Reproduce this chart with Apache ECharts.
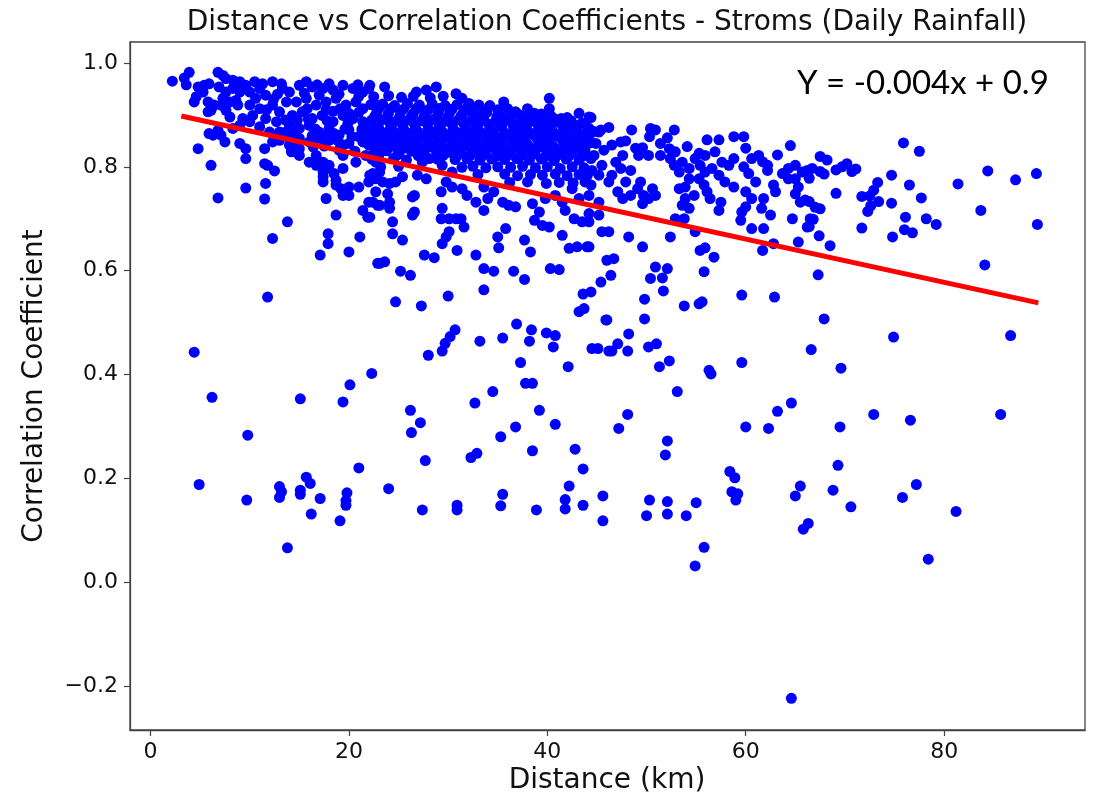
<!DOCTYPE html>
<html>
<head>
<meta charset="utf-8">
<script src="https://cdn.jsdelivr.net/npm/echarts@6/dist/echarts.min.js"></script>
<style>
html,body{margin:0;padding:0;background:#fff;}
#chart{width:1094px;height:798px;}
</style>
</head>
<body>
<div id="chart"></div>
<script>
// ---- tick labels ----
const xTicks = [0, 20, 40, 60, 80];
const yTicks = [-0.2, 0.0, 0.2, 0.4, 0.6, 0.8, 1.0];

// ---- regression line endpoints ----
const fitLine = [[3.1, 0.898], [89.5, 0.538]];
const equationText = 'Y = -0.004x + 0.9';
const titleText = 'Distance vs Correlation Coefficients - Stroms (Daily Rainfall)';
const xName = 'Distance (km)';
const yName = 'Correlation Coefficient';

// ---- scatter points: [distance km, correlation] ----
const ptsNear = [
[2.2,0.965],[3.4,0.971],[3.9,0.982],[3.6,0.958],[4.8,0.954],[5.4,0.957],[5.9,0.960],[4.6,0.935],[5.3,0.944],[4.4,0.925],
[6.8,0.982],[7.3,0.976],[7.6,0.970],[8.3,0.967],[9.0,0.964],[9.6,0.957],[6.9,0.954],[7.6,0.944],[8.3,0.951],[9.0,0.944],
[5.8,0.925],[6.4,0.919],[6.1,0.909],[5.8,0.906],[7.3,0.932],[8.0,0.925],[8.6,0.928],[7.1,0.919],[7.6,0.909],[8.0,0.896],
[8.8,0.919],[6.3,0.861],[5.9,0.864],[4.8,0.835],[6.1,0.803],[7.5,0.848],[6.8,0.870],[7.1,0.861],[9.0,0.845],[9.6,0.835],
[9.6,0.816],[11.5,0.835],[11.5,0.806],[11.8,0.803],[12.5,0.792],[11.6,0.768],[6.8,0.740],[9.6,0.759],[11.5,0.738],[13.8,0.694],
[12.3,0.662],[14.0,0.842],[14.3,0.832],[10.5,0.964],[11.3,0.960],[12.3,0.964],[13.2,0.960],[13.3,0.951],[11.0,0.951],[10.0,0.944],
[10.6,0.932],[11.6,0.938],[10.0,0.919],[11.0,0.912],[12.3,0.919],[13.0,0.906],[10.3,0.899],[11.6,0.893],[12.7,0.887],[11.0,0.877],
[12.0,0.867],[10.0,0.887],[9.3,0.893],[9.0,0.880],[8.3,0.874],[12.3,0.848],[13.0,0.851],[12.7,0.854],
[14.0,0.944],[15.0,0.957],[15.7,0.964],[16.3,0.954],[17.4,0.951],[18.4,0.948],[19.4,0.957],[20.4,0.951],[21.4,0.944],[22.0,0.951],
[14.7,0.925],[15.7,0.932],[16.7,0.919],[17.7,0.925],[18.7,0.932],[19.7,0.919],[20.7,0.925],[21.4,0.912],[22.7,0.919],
[14.3,0.899],[15.3,0.906],[16.3,0.893],[17.3,0.899],[18.4,0.887],[19.4,0.899],[20.4,0.893],[21.4,0.887],
[14.0,0.880],[15.0,0.874],[16.0,0.880],[17.0,0.867],[18.0,0.874],[19.0,0.861],[20.0,0.871],[21.0,0.858],
[15.0,0.855],[16.0,0.848],[17.0,0.855],[18.0,0.851],[20.0,0.845],[21.4,0.848],[14.2,0.829],[15.0,0.835],
[16.0,0.809],[16.7,0.803],[17.4,0.809],[18.0,0.803],[17.4,0.790],[17.7,0.797],[18.5,0.787],[18.7,0.774],[17.4,0.781],[17.4,0.771],
[19.4,0.797],[18.7,0.765],[19.2,0.758],[20.0,0.761],[21.0,0.761],[20.0,0.745],[19.4,0.745],[22.0,0.771],[22.4,0.787],[23.1,0.790],
[22.0,0.732],[21.4,0.716],[21.9,0.703],[22.7,0.752],[22.9,0.726],[17.7,0.739],[18.7,0.707],[17.9,0.671],[17.9,0.652],[17.1,0.630],
[20.0,0.636],[21.1,0.665],[22.9,0.614],[16.7,0.822],[15.0,0.822],[19.4,0.822],[20.7,0.809],[21.7,0.822],[22.7,0.809],[19.4,0.842],
[22.7,0.835],[14.0,0.861],[14.7,0.848],[13.0,0.867],
[12.8,0.940],[15.5,0.942],[17.0,0.938],[19.0,0.940],[21.0,0.936],[11.7,0.910],[15.8,0.912],[17.7,0.910],[19.1,0.912],[21.0,0.905],
[13.5,0.866],[16.5,0.866],[18.5,0.864],[21.3,0.872],[16.4,0.838],[17.5,0.840],[19.0,0.832],[20.6,0.830],[22.0,0.842],
[16.8,0.958],[18.0,0.960],[20.9,0.958],[13.7,0.925],[12.4,0.930],[14.8,0.890],[15.9,0.892],[17.8,0.889],[19.9,0.884],[22.2,0.878],
[13.6,0.890],[16.6,0.873],[19.6,0.873],[21.9,0.862],[14.4,0.866],[16.3,0.860],[17.8,0.862],[20.3,0.858],[18.9,0.850],[18.4,0.907],[20.0,0.903]
];

const ptsMid = [
[22.1,0.957],[23.6,0.954],[26.8,0.944],[27.8,0.948],[28.8,0.954],[30.8,0.941],[31.4,0.932],[32.1,0.922],[33.1,0.919],[35.6,0.925],
[36.0,0.912],[38.0,0.912],[38.7,0.903],[40.2,0.932],[40.2,0.912],[40.3,0.899],[41.5,0.880],[42.2,0.880],[43.2,0.903],[44.2,0.896],[45.2,0.867],
[22.5,0.935],[24.0,0.937],[25.3,0.934],[26.5,0.936],[28.2,0.933],[29.5,0.936],
[22.2,0.920],[23.4,0.921],[24.6,0.918],[25.9,0.922],[27.1,0.919],[28.4,0.921],[29.7,0.918],[30.9,0.920],[32.4,0.906],[34.2,0.918],[35.0,0.910],[36.8,0.906],
[22.8,0.905],[24.0,0.904],[25.2,0.906],[26.5,0.903],[27.7,0.905],[29.0,0.904],[30.2,0.906],[31.5,0.903],[32.7,0.899],[33.9,0.905],[35.3,0.897],[37.1,0.901],[38.2,0.894],[39.4,0.902],[41.4,0.893],
[22.3,0.890],[23.5,0.891],[24.8,0.888],[26.0,0.890],[27.3,0.889],[28.5,0.891],[29.8,0.888],[31.0,0.890],[32.2,0.887],[33.4,0.889],[34.7,0.886],[35.9,0.890],[37.2,0.885],[38.4,0.888],[39.7,0.884],[41.0,0.887],[42.4,0.889],[43.5,0.884],
[23.0,0.875],[24.2,0.876],[25.5,0.873],[26.7,0.875],[28.0,0.874],[29.2,0.876],[30.5,0.873],[31.7,0.875],[33.0,0.874],[34.2,0.872],[35.4,0.876],[36.6,0.873],[37.9,0.875],[39.1,0.871],[40.4,0.874],[41.7,0.870],[42.9,0.873],[44.1,0.870],
[22.4,0.860],[23.7,0.861],[24.9,0.858],[26.2,0.860],[27.4,0.859],[28.7,0.861],[29.9,0.858],[31.2,0.860],[32.4,0.859],[33.7,0.861],[34.9,0.857],[36.1,0.860],[37.4,0.858],[38.6,0.861],[39.9,0.857],[41.1,0.859],[42.3,0.856],[43.6,0.860],
[23.1,0.845],[24.3,0.846],[25.6,0.843],[26.8,0.845],[28.1,0.844],[29.3,0.846],[30.6,0.843],[31.8,0.845],[33.1,0.844],[34.3,0.846],[35.6,0.842],[36.8,0.845],[38.0,0.843],[39.3,0.846],[40.5,0.842],[41.8,0.845],[43.0,0.843],[44.3,0.846],
[22.6,0.830],[23.8,0.831],[25.1,0.828],[26.3,0.830],[27.6,0.829],[28.8,0.831],[30.1,0.828],[31.3,0.830],[32.6,0.829],[33.8,0.831],[35.1,0.827],[36.3,0.830],[37.5,0.828],[38.8,0.831],[40.0,0.827],[41.3,0.830],[42.5,0.828],[43.8,0.831],
[22.3,0.815],[24.5,0.816],[25.8,0.813],[28.9,0.815],[30.7,0.814],[31.9,0.816],[33.2,0.813],[34.4,0.815],[35.7,0.814],[36.9,0.816],[38.2,0.813],[39.4,0.815],[40.7,0.812],[41.9,0.815],[43.2,0.813],[44.4,0.816],
[23.2,0.800],[25.0,0.801],[31.4,0.799],[32.5,0.801],[33.8,0.798],[35.0,0.800],[36.3,0.799],[37.5,0.801],[38.8,0.798],[40.0,0.800],[41.3,0.797],[42.5,0.800],[43.7,0.798],
[33.0,0.785],[35.7,0.786],[37.0,0.783],[38.3,0.785],[39.5,0.784],[40.8,0.786],[42.0,0.783],[43.2,0.785],[44.0,0.782],
[36.2,0.770],[38.0,0.771],[39.9,0.768],[41.2,0.770],[42.6,0.769],[43.8,0.771],
[23.0,0.912],[24.3,0.913],[25.5,0.911],[26.8,0.912],[28.0,0.910],[29.2,0.913],[30.4,0.911],[31.8,0.912],[33.5,0.910],
[22.6,0.897],[23.9,0.898],[25.1,0.896],[26.3,0.897],[27.6,0.898],[28.9,0.896],[30.0,0.897],[31.3,0.898],[32.5,0.895],[33.6,0.897],[34.9,0.896],[36.3,0.898],[37.8,0.895],[39.0,0.896],[40.6,0.894],[42.0,0.895],
[22.9,0.882],[24.2,0.883],[25.4,0.881],[26.6,0.882],[27.9,0.883],[29.1,0.881],[30.4,0.882],[31.6,0.883],[32.8,0.881],[34.1,0.882],[35.3,0.880],[36.5,0.882],[37.8,0.881],[39.0,0.883],[40.3,0.880],[41.5,0.882],[42.8,0.880],[43.9,0.881],
[23.3,0.867],[24.5,0.868],[25.8,0.866],[27.0,0.867],[28.3,0.868],[29.5,0.866],[30.8,0.867],[32.0,0.868],[33.3,0.866],[34.5,0.867],[35.7,0.865],[37.0,0.867],[38.2,0.866],[39.5,0.868],[40.7,0.865],[42.0,0.866],[43.2,0.864],
[22.8,0.852],[24.0,0.853],[25.3,0.851],[26.5,0.852],[27.8,0.853],[29.0,0.851],[30.3,0.852],[31.5,0.853],[32.8,0.851],[34.0,0.852],[35.2,0.850],[36.5,0.852],[37.7,0.851],[39.0,0.853],[40.2,0.850],[41.5,0.852],[42.7,0.850],[43.9,0.851],
[23.4,0.837],[24.7,0.838],[25.9,0.836],[27.2,0.837],[28.4,0.838],[29.7,0.836],[30.9,0.837],[32.2,0.838],[33.4,0.836],[34.6,0.837],[35.9,0.835],[37.1,0.837],[38.4,0.836],[39.6,0.838],[40.9,0.835],[42.1,0.836],[43.4,0.834],
[23.0,0.822],[24.9,0.823],[27.0,0.821],[29.5,0.822],[31.0,0.823],[32.2,0.821],[33.5,0.822],[34.8,0.820],[36.0,0.822],[37.3,0.821],[38.5,0.823],[39.8,0.820],[41.0,0.822],[42.2,0.821],[43.5,0.820],
[22.1,0.784],[22.7,0.777],[23.4,0.771],[24.1,0.768],[24.7,0.771],[25.4,0.781],[22.4,0.732],[23.1,0.726],[23.9,0.748],[24.1,0.732],
[24.1,0.720],[24.4,0.694],[22.1,0.703],[24.4,0.671],[25.4,0.659],[26.4,0.742],[26.6,0.745],[26.4,0.707],[26.6,0.713],[26.9,0.784],
[27.8,0.777],[29.3,0.752],[29.4,0.720],[29.3,0.700],[30.1,0.700],[30.8,0.700],[31.3,0.700],[31.6,0.684],[29.8,0.771],[30.4,0.761],
[31.4,0.758],[31.9,0.745],[32.8,0.732],[30.1,0.675],[29.8,0.665],[29.4,0.652],[30.9,0.639],[27.6,0.630],[28.6,0.625],[32.8,0.630],
[23.1,0.614],[23.6,0.617],[25.2,0.599],[26.2,0.591],[33.6,0.604],[34.6,0.599],[36.6,0.599],[37.7,0.583],[35.0,0.665],[35.1,0.644],
[35.8,0.681],[37.7,0.659],[38.3,0.636],[33.6,0.716],[34.0,0.739],[34.6,0.752],[35.5,0.732],[36.1,0.726],[36.8,0.723],[38.5,0.729],
[39.2,0.713],[38.7,0.697],[39.5,0.687],[40.2,0.684],[40.3,0.604],[41.2,0.602],[41.5,0.668],[41.8,0.716],[42.7,0.700],[43.5,0.694],
[42.2,0.643],[43.0,0.646],[44.0,0.646],[39.8,0.739],[40.8,0.745],[41.5,0.732],[42.5,0.758],[43.2,0.739],[44.2,0.745],[45.2,0.732],
[33.6,0.761],[27.4,0.809],[28.1,0.816],[29.4,0.803],[30.4,0.790]
];

const ptsFar = [
[44.4,0.895],[46.2,0.876],[45.4,0.871],[44.7,0.868],[48.5,0.871],[50.4,0.874],[50.9,0.871],[50.3,0.858],[52.1,0.856],[52.8,0.871],
[56.1,0.852],[57.3,0.852],[58.8,0.858],[59.8,0.858],[64.5,0.841],[63.2,0.823],[47.4,0.848],[47.9,0.850],[48.9,0.836],[49.6,0.837],
[51.4,0.845],[54.1,0.839],[55.3,0.826],[60.0,0.836],[60.6,0.816],[61.7,0.810],[58.8,0.816],
[44.9,0.845],[45.7,0.832],[44.7,0.822],[45.5,0.803],[44.5,0.793],[45.2,0.784],[46.2,0.771],[44.4,0.765],[47.6,0.822],[46.9,0.809],
[47.4,0.797],[48.4,0.793],[46.5,0.784],[47.9,0.771],[47.1,0.752],[48.4,0.745],[47.6,0.739],[49.4,0.771],[49.1,0.758],[49.7,0.745],
[50.6,0.758],[50.9,0.745],[50.2,0.739],[49.6,0.729],[51.4,0.822],[52.4,0.816],[52.8,0.803],[53.6,0.809],[53.3,0.790],[54.3,0.797],
[54.3,0.777],[53.9,0.761],[53.3,0.758],[54.9,0.816],[55.4,0.803],[55.9,0.790],[56.6,0.797],[55.3,0.777],[55.8,0.765],[54.8,0.745],
[53.9,0.739],[56.1,0.752],[56.4,0.739],[57.3,0.784],[57.6,0.809],[57.9,0.771],[58.8,0.761],[57.5,0.732],[57.3,0.716],[54.3,0.720],
[53.6,0.726],[52.9,0.700],[53.8,0.700],[59.8,0.800],[60.3,0.787],[61.0,0.771],[60.0,0.752],[60.6,0.739],[60.0,0.723],[59.6,0.713],
[59.5,0.697],[60.6,0.681],[61.8,0.739],[61.6,0.720],[62.5,0.707],[61.8,0.681],[62.2,0.793],[62.8,0.765],[63.0,0.752],[63.7,0.787],
[64.3,0.797],[65.0,0.777],[65.7,0.790],[66.2,0.793],[65.3,0.761],[65.0,0.748],[66.0,0.736],[65.5,0.732],[66.5,0.700],[66.2,0.684],
[64.7,0.700],[65.3,0.655],[44.2,0.710],[44.2,0.694],[45.2,0.707],[45.5,0.675],[46.2,0.675],[48.2,0.665],[49.6,0.646],[44.2,0.646],
[46.0,0.620],[46.7,0.623],[46.4,0.591],[45.4,0.578],[50.9,0.607],[52.1,0.604],[50.4,0.585],[51.6,0.586],[52.4,0.665],[55.4,0.639],
[55.9,0.644],[56.8,0.626],[61.7,0.639],[62.8,0.652],[54.9,0.675],[55.8,0.598],[44.2,0.874],[44.2,0.855],
[46.5,0.842],[49.2,0.822],[50.2,0.822],[52.3,0.835],[52.9,0.829],[55.9,0.822],[56.9,0.829],[58.3,0.803],[61.3,0.822],[62.2,0.803],
[64.3,0.777],[65.0,0.803],
[75.9,0.846],[77.5,0.830],[84.4,0.792],[87.2,0.775],[89.3,0.787],[81.4,0.767],[83.7,0.716],[89.4,0.689],[84.1,0.611],[76.5,0.765],
[77.7,0.740],[78.2,0.700],[79.2,0.689],[76.1,0.703],[76.0,0.679],[76.8,0.673],[74.7,0.784],[74.7,0.730],[74.8,0.665],[73.3,0.770],
[72.9,0.755],[72.5,0.744],[73.4,0.733],[72.6,0.725],[72.3,0.714],[71.7,0.743],[71.7,0.682],[69.1,0.749],[67.5,0.820],[68.2,0.813],
[66.7,0.797],[67.5,0.791],[67.9,0.786],[69.1,0.794],[69.7,0.800],[70.2,0.806],[70.7,0.791],[71.1,0.796],[66.4,0.778],[66.4,0.733],
[67.0,0.722],[67.5,0.719],[66.8,0.699],[66.4,0.685],[67.4,0.667],[68.5,0.648],[67.3,0.592]
];

const ptsLow = [
[11.8,0.549],[24.7,0.540],[27.3,0.532],[30.0,0.551],[33.6,0.563],[43.6,0.555],[44.4,0.559],[43.2,0.521],[43.7,0.527],[45.9,0.505],
[36.9,0.497],[38.4,0.486],[39.9,0.480],[40.8,0.475],[38.2,0.464],[40.6,0.453],[35.5,0.470],[33.2,0.464],[30.7,0.486],[30.2,0.473],
[29.7,0.460],[29.4,0.445],[28.0,0.437],[4.4,0.443],[37.3,0.423],[42.1,0.415],[44.5,0.450],[45.1,0.450],[46.2,0.445],[22.3,0.402],
[20.1,0.380],[19.4,0.347],[15.1,0.353],[6.2,0.356],[37.8,0.383],[38.5,0.383],[34.5,0.367],[32.7,0.345],[39.2,0.331],[26.2,0.331],
[27.2,0.307],[26.3,0.288],[36.8,0.299],[40.8,0.304],[35.3,0.280],[9.8,0.283],[38.5,0.253],[42.8,0.256],[32.3,0.240],[32.9,0.248],
[27.7,0.234],[43.6,0.218],[21.0,0.220],[4.9,0.188],[9.7,0.158],[13.0,0.184],[13.2,0.174],[13.0,0.163],[15.1,0.177],[15.1,0.169],
[15.7,0.202],[16.1,0.190],[17.1,0.161],[16.2,0.131],[19.1,0.118],[19.8,0.172],[19.7,0.157],[19.7,0.148],[24.0,0.180],[27.4,0.139],
[30.9,0.148],[30.9,0.139],[35.5,0.169],[35.3,0.147],[38.9,0.139],[42.2,0.185],[41.8,0.159],[41.8,0.141],[43.6,0.148],[45.6,0.166],
[45.6,0.118],[13.8,0.066],
[49.8,0.545],[51.7,0.561],[53.8,0.532],[55.3,0.536],[55.6,0.540],[59.6,0.553],[62.9,0.549],[46.0,0.505],[49.8,0.507],[67.9,0.507],
[48.2,0.478],[47.1,0.459],[46.5,0.445],[48.1,0.445],[50.2,0.453],[51.0,0.459],[51.3,0.415],[52.3,0.426],[56.3,0.408],[56.5,0.401],
[59.6,0.423],[66.6,0.448],[69.6,0.412],[74.9,0.472],[86.7,0.475],[53.1,0.367],[48.1,0.323],[47.2,0.296],[52.1,0.272],[51.9,0.245],
[60.0,0.299],[62.3,0.296],[63.2,0.329],[64.6,0.345],[69.5,0.299],[72.9,0.323],[76.6,0.312],[85.7,0.323],[69.3,0.225],[58.4,0.213],
[58.9,0.201],[58.6,0.174],[59.2,0.170],[59.0,0.158],[65.5,0.185],[65.0,0.166],[68.8,0.177],[70.6,0.145],[77.2,0.188],[75.8,0.163],
[81.2,0.136],[50.3,0.158],[50.0,0.128],[52.1,0.155],[52.1,0.131],[55.0,0.153],[54.0,0.128],[66.3,0.113],[65.8,0.102],[55.8,0.067],
[54.9,0.031],[78.4,0.044],[64.6,-0.224]
];

const allPts = ptsNear.concat(ptsMid, ptsFar, ptsLow);

const chart = echarts.init(document.getElementById('chart'), null, {renderer: 'canvas'});
const tickFont = {fontFamily: 'DejaVu Sans', fontSize: 22, color: '#111'};
const frameColor = '#444';

chart.setOption({
  animation: false,
  backgroundColor: '#ffffff',
  grid: {left: 130, right: 9, top: 42, bottom: 68, show: true, borderColor: frameColor, borderWidth: 1.3, backgroundColor: 'transparent'},
  xAxis: {
    type: 'value', min: -2.07, max: 94.2,
    axisLine: {show: true, onZero: false, lineStyle: {color: frameColor, width: 1.3}},
    axisTick: {show: true, customValues: xTicks, length: 6, lineStyle: {color: frameColor, width: 1.2}},
    axisLabel: Object.assign({customValues: xTicks, margin: 11, formatter: v => String(Math.round(v))}, tickFont),
    splitLine: {show: false}
  },
  yAxis: {
    type: 'value', min: -0.285, max: 1.0405,
    axisLine: {show: true, onZero: false, lineStyle: {color: frameColor, width: 1.3}},
    axisTick: {show: true, customValues: yTicks, length: 6, lineStyle: {color: frameColor, width: 1.2}},
    axisLabel: Object.assign({customValues: yTicks, margin: 12, formatter: v => {
      const s = Math.abs(v).toFixed(1);
      return v < -1e-9 ? '\u2212' + s : s;
    }}, tickFont),
    splitLine: {show: false}
  },
  graphic: [
    {type: 'text', x: 607, y: 23,
     style: {text: titleText, fontFamily: 'DejaVu Sans', fontSize: 28, fill: '#111', align: 'center', verticalAlign: 'middle'}},
    {type: 'text', x: 35, y: 386, rotation: Math.PI / 2,
     style: {text: yName, fontFamily: 'DejaVu Sans', fontSize: 28, fill: '#111', align: 'center', verticalAlign: 'middle'}},
    {type: 'text', x: 607, y: 781,
     style: {text: xName, fontFamily: 'DejaVu Sans', fontSize: 28, fill: '#111', align: 'center', verticalAlign: 'middle'}},
    {type: 'text', x: 797, y: 83, z: 100,
     style: {text: equationText, fontFamily: 'Lato', fontSize: 33, fill: '#000', align: 'left', verticalAlign: 'middle'}}
  ],
  series: [
    {type: 'scatter', data: allPts, symbolSize: 11, itemStyle: {color: '#0000ff', opacity: 1}, z: 2, silent: true},
    {type: 'line', data: fitLine, symbol: 'none', lineStyle: {color: '#ff0000', width: 5}, z: 3, silent: true}
  ]
});
</script>
</body>
</html>
